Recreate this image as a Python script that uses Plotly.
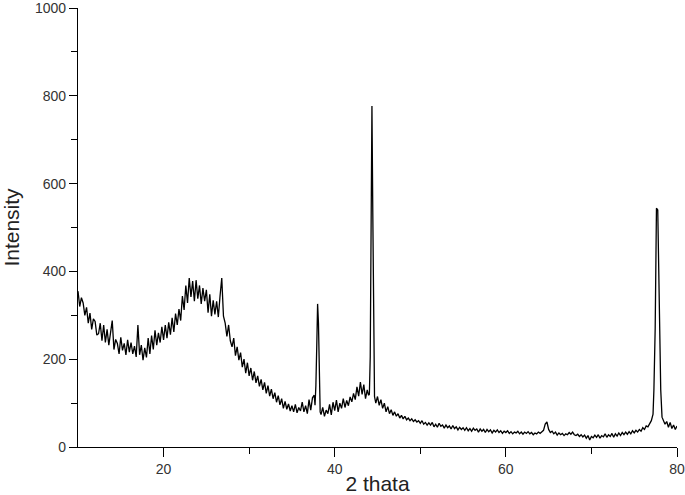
import plotly.graph_objects as go

# background, 10.0 -> 37.6 deg, step 0.2
bg1_start, bg1_step = 10.0, 0.2
bg1_intensity = [
    355, 320, 340, 328, 300, 318, 282, 305, 268, 292, 286, 255, 258, 282, 242, 278, 238, 268, 232, 258,
    288, 222, 245, 236, 212, 250, 220, 236, 210, 244, 216, 238, 212, 230, 205, 278, 210, 232, 198, 226,
    204, 248, 212, 254, 222, 266, 232, 260, 238, 274, 244, 278, 248, 284, 256, 294, 262, 304, 278, 314,
    288, 344, 312, 368, 328, 385, 342, 378, 332, 380, 338, 368, 326, 362, 332, 358, 306, 348, 298, 334,
    302, 332, 296, 344, 385, 298, 282, 252, 278, 242, 228, 248, 208, 228, 198, 215, 182, 200, 168, 192,
    162, 180, 152, 172, 146, 162, 138, 154, 130, 147, 122, 140, 116, 132, 110, 124, 102, 117, 96, 110,
    88, 104, 86, 98, 82, 94, 80, 97, 78, 90, 82, 102, 80, 94, 76, 108, 84, 112, 118,
]

# reflection near 38 deg
pk1_theta = [37.7, 37.8, 37.9, 38.0, 38.1, 38.2, 38.3]
pk1_intensity = [95, 140, 228, 326, 282, 153, 80]

# background, 38.4 -> 43.8 deg
bg2_start, bg2_step = 38.4, 0.2
bg2_intensity = [
    74, 90, 70, 84, 76, 97, 73, 102, 83, 107, 80, 100, 88, 110, 90, 106, 94, 114, 103, 122,
    108, 137, 116, 148, 120, 142, 110, 130,
]

# reflection near 44.4 deg
pk2_theta = [43.95, 44.05, 44.15, 44.25, 44.35, 44.45, 44.55, 44.65]
pk2_intensity = [118, 120, 205, 676, 777, 535, 205, 115]

# background, 44.8 -> 77.2 deg
bg3_start, bg3_step = 44.8, 0.2
bg3_intensity = [
    100, 115, 95, 108, 88, 100, 80, 92, 76, 85, 72, 80, 70, 76, 66, 72, 64, 70, 62, 66,
    60, 64, 58, 62, 57, 60, 54, 60, 52, 56, 50, 55, 50, 56, 46, 52, 45, 54, 47, 50,
    43, 50, 44, 48, 41, 49, 42, 46, 39, 45, 40, 44, 38, 44, 37, 42, 36, 43, 38, 41,
    34, 41, 36, 40, 33, 40, 35, 39, 32, 38, 34, 39, 33, 37, 31, 36, 33, 37, 31, 35,
    30, 34, 32, 36, 30, 34, 29, 34, 31, 35, 30, 33, 28, 32, 30, 34, 31, 35, 38, 52,
    57, 40, 33, 36, 30, 34, 27, 32, 28, 31, 26, 30, 28, 33, 29, 34, 28, 26, 29, 24,
    28, 23, 27, 20, 26, 16, 24, 21, 27, 22, 28, 20, 26, 23, 30, 22, 28, 24, 31, 22,
    30, 25, 32, 26, 33, 28, 34, 29, 35, 30, 37, 32, 38, 34, 40, 36, 44, 40, 48, 46,
    55, 60, 75,
]

# reflection near 77.7 deg and tail
pk3_theta = [77.3, 77.45, 77.6, 77.75, 77.85, 77.95, 78.1, 78.25, 78.4, 78.6, 78.8,
             79.0, 79.2, 79.4, 79.6, 79.8, 80.0]
pk3_intensity = [130, 270, 544, 540, 410, 270, 130, 68, 60, 52, 58, 45, 56, 42, 50, 40, 48]

pts = []
for start, step, vals in [(bg1_start, bg1_step, bg1_intensity),
                          (bg2_start, bg2_step, bg2_intensity),
                          (bg3_start, bg3_step, bg3_intensity)]:
    pts += [(round(start + i * step, 3), v) for i, v in enumerate(vals)]
pts += list(zip(pk1_theta, pk1_intensity)) + list(zip(pk2_theta, pk2_intensity)) + list(zip(pk3_theta, pk3_intensity))
pts.sort()
two_theta = [p[0] for p in pts]
intensity = [p[1] for p in pts]

fig = go.Figure()
fig.add_trace(go.Scatter(x=two_theta, y=intensity, mode="lines",
                         line=dict(color="black", width=1.3), showlegend=False))

tick_font = dict(family="Liberation Sans, Arial", size=14, color="#333")
title_font = dict(family="Liberation Sans, Arial", size=21, color="#222")
fig.update_xaxes(range=[10, 80], tickvals=[20, 40, 60, 80], showline=True, linecolor="black", linewidth=1.3,
                 ticks="outside", ticklen=9, tickwidth=1.3, tickcolor="black", tickfont=tick_font,
                 minor=dict(tickvals=[30, 50, 70], ticks="outside", ticklen=6, tickwidth=1.3, tickcolor="black"),
                 showgrid=False, zeroline=False, automargin=False, ticklabeloverflow="allow",
                 title=dict(text="2 thata", font=title_font, standoff=3))
fig.update_yaxes(range=[0, 1000], tickvals=[0, 200, 400, 600, 800, 1000], showline=True, linecolor="black",
                 linewidth=1.3, ticks="outside", ticklen=8, tickwidth=1.3, tickcolor="black", tickfont=tick_font,
                 minor=dict(tickvals=[100, 300, 500, 700, 900], ticks="outside", ticklen=6, tickwidth=1.3,
                            tickcolor="black"),
                 showgrid=False, zeroline=False, automargin=False, ticklabelstandoff=0, ticklabeloverflow="allow",
                 title=dict(text="Intensity", font=title_font, standoff=13))
fig.update_layout(width=685, height=495, margin=dict(l=78, r=8, t=8, b=48),
                  plot_bgcolor="white", paper_bgcolor="white")
# drop the page's default body margin so the figure sits at the window's corner
fig.write_html("out.html", config={"displayModeBar": False},
               post_script="document.body.style.margin='0';")
